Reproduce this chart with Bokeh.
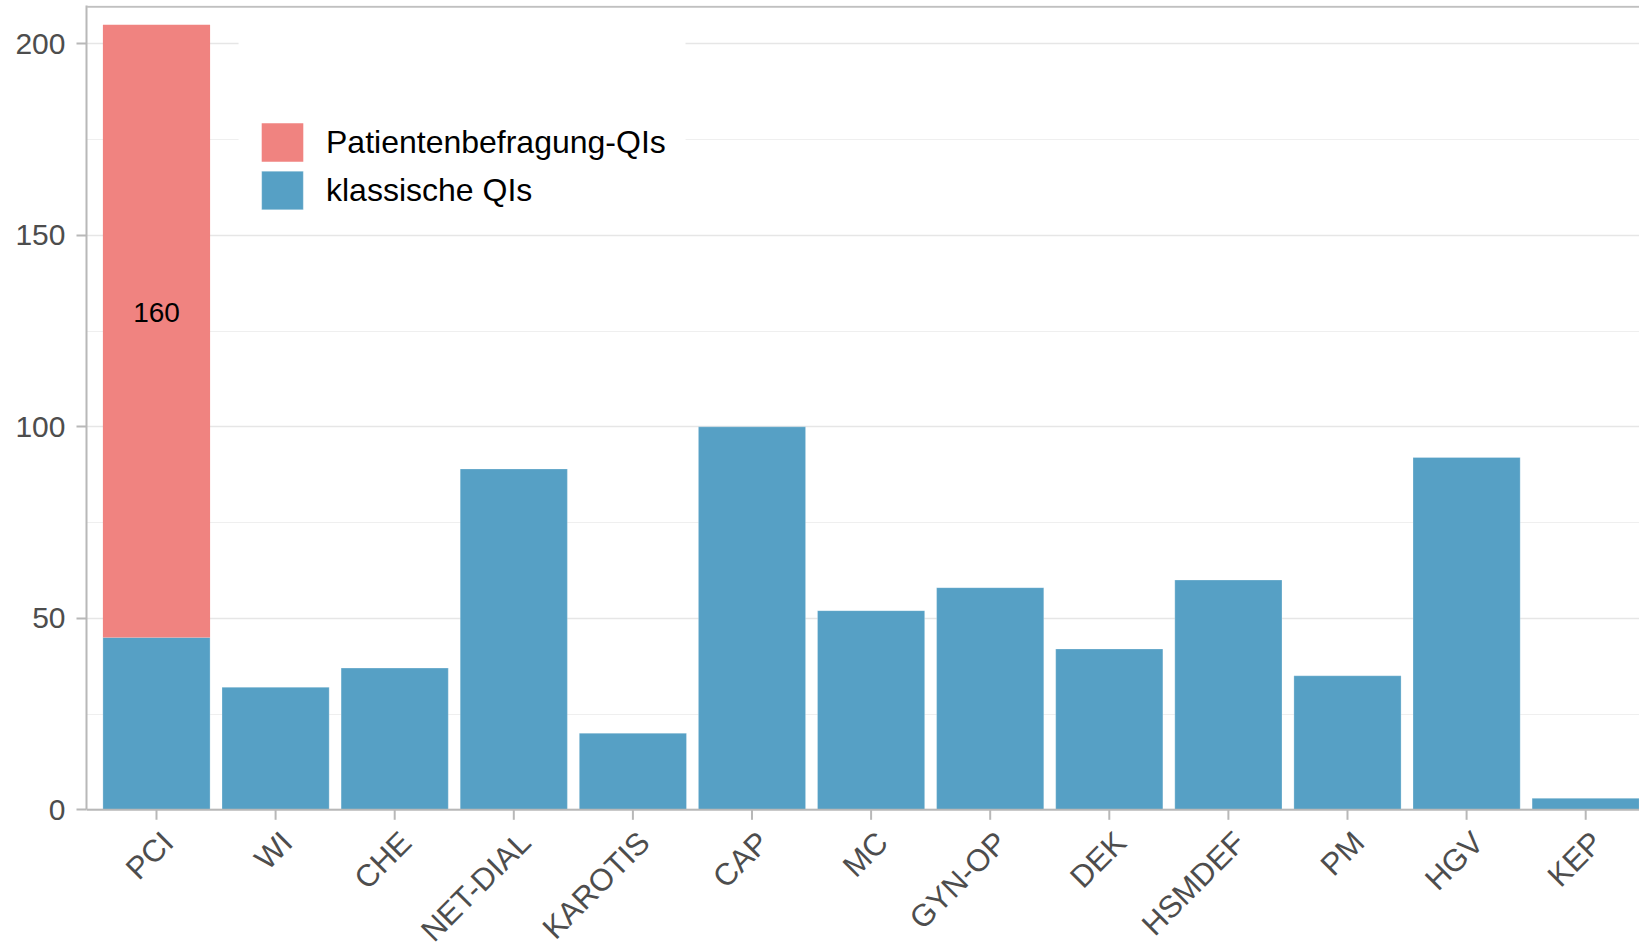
import math
from bokeh.plotting import figure
from bokeh.models import (ColumnDataSource, FixedTicker, Range1d,
                          Legend, LegendItem, BoxAnnotation, Span, LabelSet)
from bokeh.core.properties import value
from bokeh.embed import file_html
from bokeh.resources import INLINE

categories = ["PCI", "WI", "CHE", "NET-DIAL", "KAROTIS", "CAP", "MC", "GYN-OP",
              "DEK", "HSMDEF", "PM", "HGV", "KEP"]
klassische = [45, 32, 37, 89, 20, 100, 52, 58, 42, 60, 35, 92, 3]
patienten = [160, 0, 0, 0, 0, 0, 0, 0, 0, 0, 0, 0, 0]
series_names = ["Patientenbefragung-QIs", "klassische QIs"]
y_major = [0, 50, 100, 150, 200]
y_minor = [25, 75, 125, 175]

RED = "#F08380"
BLUE = "#56A0C5"
AXIS = "#b8b8b8"
FONT = "Liberation Sans"

# layout (pixels)
W, H = 1639, 949
LEFT, TOP = 86, 5
Y_TOP = 210.0
PX_PER_UNIT = 3.83          # vertical scale
ZERO_PX = 809.3             # pixel row of y = 0
Y_BOTTOM = -(H - ZERO_PX) / PX_PER_UNIT
X_START = 0.4123
X_END = X_START + (W - LEFT) / 119.1
TICK_LEN = 10 / PX_PER_UNIT

xs = list(range(1, len(categories) + 1))
tops_red = [k + r for k, r in zip(klassische, patienten)]

src = ColumnDataSource(dict(x=xs, k=klassische, rb=klassische, rt=tops_red,
                            cat=categories, zero=[0] * len(xs),
                            tick=[-TICK_LEN] * len(xs)))

p = figure(width=W, height=H, output_backend="svg", toolbar_location=None,
           x_range=Range1d(X_START, X_END), y_range=Range1d(Y_BOTTOM, Y_TOP),
           min_border_left=LEFT, min_border_right=0, min_border_top=TOP,
           min_border_bottom=0)
p.background_fill_color = "white"
p.border_fill_color = "white"
p.outline_line_color = None
p.xaxis.visible = False

# y axis
p.yaxis.ticker = FixedTicker(ticks=y_major, minor_ticks=y_minor)
p.yaxis.bounds = (0, Y_TOP)
p.yaxis.axis_line_color = AXIS
p.yaxis.axis_line_width = 2
p.yaxis.major_tick_line_color = AXIS
p.yaxis.major_tick_line_width = 2
p.yaxis.major_tick_out = 10
p.yaxis.major_tick_in = 0
p.yaxis.minor_tick_line_color = None
p.yaxis.major_label_text_font = FONT
p.yaxis.major_label_text_font_size = "30px"
p.yaxis.major_label_text_color = "#4d4d4d"
p.yaxis.major_label_standoff = 11

p.xgrid.grid_line_color = None
p.ygrid.grid_line_color = "#e6e6e6"
p.ygrid.grid_line_width = 1.6
p.ygrid.minor_grid_line_color = "#efefef"
p.ygrid.minor_grid_line_width = 1

# bars
r_blue = p.vbar(x="x", top="k", bottom=0, width=0.9, source=src,
                fill_color=BLUE, line_color="white", line_alpha=0.25, line_width=1)
r_red = p.vbar(x="x", top="rt", bottom="rb", width=0.9, source=src,
               fill_color=RED, line_color=None)

# x axis line, ticks and rotated category labels (top-right anchored)
p.add_layout(Span(location=0, dimension="width", line_color=AXIS, line_width=2))
p.segment(x0="x", y0="zero", x1="x", y1="tick", source=src,
          line_color=AXIS, line_width=2)
p.add_layout(LabelSet(x="x", y="zero", text="cat", source=src,
                      x_offset=-1, y_offset=-15, angle=math.pi / 4,
                      text_align="right", text_baseline="top",
                      text_font=value(FONT), text_font_size="31px",
                      text_color="#4d4d4d"))

# label for the patient survey segment
lab = ColumnDataSource(dict(
    x=[x for x, r in zip(xs, patienten) if r > 0],
    y=[k + r / 2 for k, r in zip(klassische, patienten) if r > 0],
    t=[str(r) for r in patienten if r > 0]))
p.text(x="x", y="y", text="t", source=lab, text_align="center",
       text_baseline="middle", text_font=value(FONT), text_font_size="28px",
       text_color="black", y_offset=-19)

# top border
p.add_layout(Span(location=Y_TOP - 0.3, dimension="width", line_color="#c0c0c0",
                  line_width=2))

# legend background covering grid lines
p.add_layout(BoxAnnotation(left=1.689, right=5.442, top=203.5, bottom=153.9,
                           fill_color="white", fill_alpha=1.0, line_color=None))

legend = Legend(items=[LegendItem(label=series_names[0], renderers=[r_red]),
                       LegendItem(label=series_names[1], renderers=[r_blue])],
                location=(170, 735), padding=0, margin=0, spacing=0,
                glyph_width=52, glyph_height=48, label_standoff=18,
                label_text_font=FONT, label_text_font_size="32px",
                label_text_color="black", border_line_color=None,
                background_fill_alpha=0)
p.add_layout(legend)

open("out.html", "w").write(file_html(p, INLINE))
